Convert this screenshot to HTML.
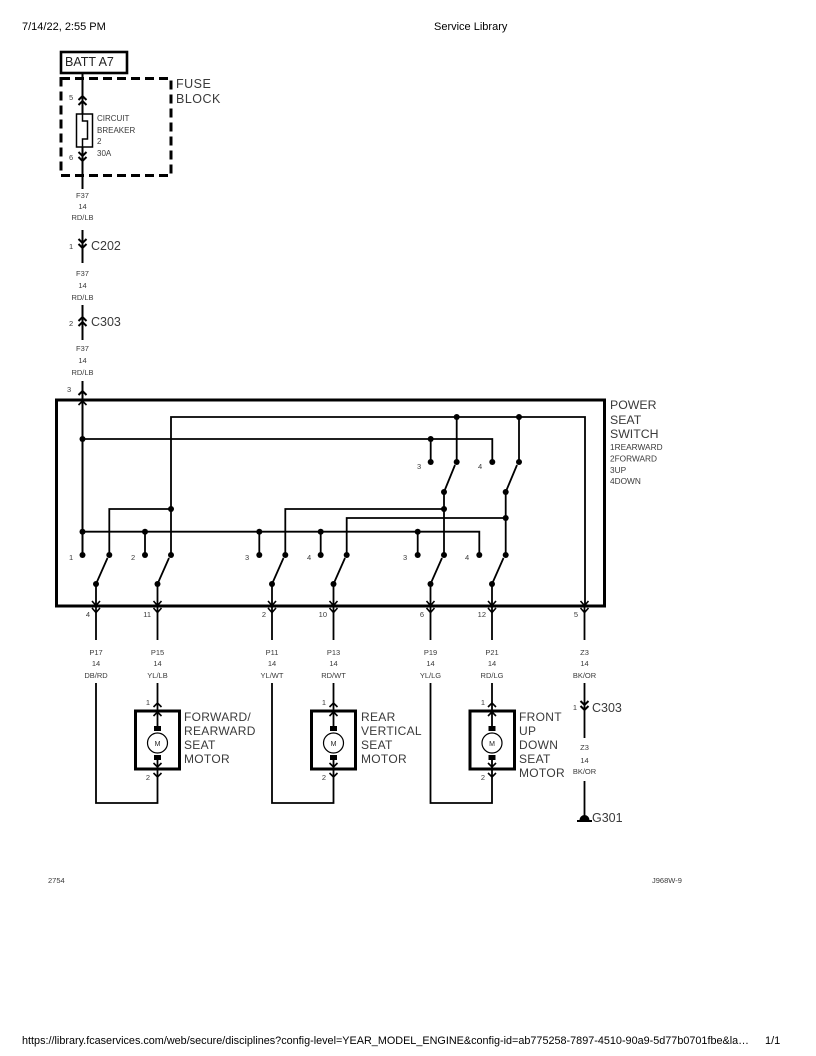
<!DOCTYPE html>
<html><head><meta charset="utf-8"><style>
html,body{margin:0;padding:0;background:#fff;}
svg{display:block;}
</style></head><body>
<svg width="816" height="1056" viewBox="0 0 816 1056" xmlns="http://www.w3.org/2000/svg" font-family="Liberation Sans, sans-serif">
<rect width="816" height="1056" fill="#fff"/>
<!-- header / footer -->
<text x="22" y="30" font-size="11" fill="#000">7/14/22, 2:55 PM</text>
<text x="434" y="30" font-size="11" fill="#000">Service Library</text>
<text x="22" y="1044" font-size="11" fill="#000" textLength="727" lengthAdjust="spacingAndGlyphs">https://library.fcaservices.com/web/secure/disciplines?config-level=YEAR_MODEL_ENGINE&amp;config-id=ab775258-7897-4510-90a9-5d77b0701fbe&amp;la…</text>
<text x="765" y="1044" font-size="11" fill="#000">1/1</text>

<g fill="#3a3a3a">
<text x="48" y="883" font-size="7.5">2754</text>
<text x="652" y="883" font-size="7.5">J968W-9</text>
</g>

<g stroke="#000" fill="none" stroke-width="2" stroke-linecap="butt">
<!-- BATT box -->
<rect x="61" y="52" width="66" height="21" stroke-width="2.6"/>
<!-- fuse block dashed -->
<rect x="61" y="78.5" width="110" height="97" stroke-width="3" stroke-dasharray="9,5"/>
<!-- main top wire -->
<path d="M82.5 73 V114 M82.5 147 V189"/>
<rect x="76.5" y="114" width="16" height="33" stroke-width="1.5"/>
<path d="M82.5 114 V121 H87.5 V139 H82.5 V147" stroke-width="1.5"/>
<polyline points="78.5,100 82.5,96 86.5,100"/>
<polyline points="78.5,105 82.5,101 86.5,105"/>
<polyline points="78.5,152 82.5,156 86.5,152"/>
<polyline points="78.5,157 82.5,161 86.5,157"/>
<!-- C202 -->
<path d="M82.5 230 V263"/>
<polyline points="78.5,239 82.5,243 86.5,239"/>
<polyline points="78.5,244 82.5,248 86.5,244"/>
<!-- C303 -->
<path d="M82.5 305 V340"/>
<polyline points="78.5,321 82.5,317 86.5,321"/>
<polyline points="78.5,326 82.5,322 86.5,326"/>
<!-- into switch -->
<path d="M82.5 381 V555"/>
<polyline points="78.5,395 82.5,391 86.5,395"/>
<polyline points="78.5,405 82.5,401 86.5,405" stroke-width="1.6"/>

<!-- switch box -->
<rect x="56.5" y="400" width="548" height="206" stroke-width="3"/>

<!-- internal wiring -->
<path d="M171 555 V417 H585 V606" stroke-width="1.8"/>
<path d="M82.5 439 H492.3 V462" stroke-width="1.8"/>
<path d="M430.7 439 V462" stroke-width="1.8"/>
<path d="M456.7 417 V462" stroke-width="1.8"/>
<path d="M519 417 V462" stroke-width="1.8"/>
<path d="M444 492 V555" stroke-width="1.8"/>
<path d="M505.7 492 V555" stroke-width="1.8"/>
<path d="M444 492 L455 465 M505.7 492 L517 465" stroke-width="1.8"/>
<path d="M109.3 555 V509 H171" stroke-width="1.8"/>
<path d="M285.3 555 V509 H444" stroke-width="1.8"/>
<path d="M346.7 555 V518 H505.7" stroke-width="1.8"/>
<path d="M82.5 531.7 H479.3 V555" stroke-width="1.8"/>
<path d="M145 531.7 V555 M259.3 531.7 V555 M320.7 531.7 V555 M417.7 531.7 V555" stroke-width="1.8"/>
<!-- lower blades -->
<path d="M96 584 L107.5 558 M157.5 584 L169 558 M272 584 L283.5 558 M333.5 584 L345 558 M430.5 584 L442 558 M492 584 L503.5 558" stroke-width="1.8"/>
<path d="M96 584 V640 M157.5 584 V640 M272 584 V640 M333.5 584 V640 M430.5 584 V640 M492 584 V640 M584.5 606 V640" stroke-width="1.8"/>
<!-- bottom connectors -->
<g stroke-width="1.6">
<polyline points="92,601 96,605.5 100,601"/><polyline points="92,608 96,612.5 100,608"/>
<polyline points="153.5,601 157.5,605.5 161.5,601"/><polyline points="153.5,608 157.5,612.5 161.5,608"/>
<polyline points="268,601 272,605.5 276,601"/><polyline points="268,608 272,612.5 276,608"/>
<polyline points="329.5,601 333.5,605.5 337.5,601"/><polyline points="329.5,608 333.5,612.5 337.5,608"/>
<polyline points="426.5,601 430.5,605.5 434.5,601"/><polyline points="426.5,608 430.5,612.5 434.5,608"/>
<polyline points="488,601 492,605.5 496,601"/><polyline points="488,608 492,612.5 496,608"/>
<polyline points="580.5,601 584.5,605.5 588.5,601"/><polyline points="580.5,608 584.5,612.5 588.5,608"/>
</g>

<!-- motor loops -->
<path d="M96 683 V803 H157.5 V776" stroke-width="1.8"/>
<path d="M157.5 683 V728" stroke-width="1.8"/>
<path d="M157.5 758 V776" stroke-width="1.8"/>
<path d="M272 683 V803 H333.5 V776" stroke-width="1.8"/>
<path d="M333.5 683 V728" stroke-width="1.8"/>
<path d="M333.5 758 V776" stroke-width="1.8"/>
<path d="M430.5 683 V803 H492 V776" stroke-width="1.8"/>
<path d="M492 683 V728" stroke-width="1.8"/>
<path d="M492 758 V776" stroke-width="1.8"/>

<!-- motor boxes -->
<rect x="135.5" y="711" width="44" height="58" stroke-width="3"/>
<rect x="311.5" y="711" width="44" height="58" stroke-width="3"/>
<rect x="470" y="711" width="44.5" height="58" stroke-width="3"/>
<circle cx="157.5" cy="743" r="10" stroke-width="1.2"/>
<circle cx="333.5" cy="743" r="10" stroke-width="1.2"/>
<circle cx="492" cy="743" r="10" stroke-width="1.2"/>
<g stroke-width="1.6">
<polyline points="153.5,707 157.5,703 161.5,707"/><polyline points="153.5,716 157.5,712 161.5,716"/>
<polyline points="153.5,763 157.5,767 161.5,763"/><polyline points="153.5,773 157.5,777 161.5,773"/>
<polyline points="329.5,707 333.5,703 337.5,707"/><polyline points="329.5,716 333.5,712 337.5,716"/>
<polyline points="329.5,763 333.5,767 337.5,763"/><polyline points="329.5,773 333.5,777 337.5,773"/>
<polyline points="488,707 492,703 496,707"/><polyline points="488,716 492,712 496,716"/>
<polyline points="488,763 492,767 496,763"/><polyline points="488,773 492,777 496,773"/>
</g>

<!-- Z3 to ground -->
<path d="M584.5 683 V738 M584.5 781 V816" stroke-width="1.8"/>
<polyline points="580.5,701 584.5,705 588.5,701"/>
<polyline points="580.5,706 584.5,710 588.5,706"/>
<path d="M577 821 H592" stroke-width="2"/>
</g>

<!-- filled parts -->
<g fill="#000">
<rect x="154" y="726" width="7" height="5"/><rect x="154" y="755" width="7" height="5"/>
<rect x="330" y="726" width="7" height="5"/><rect x="330" y="755" width="7" height="5"/>
<rect x="488.5" y="726" width="7" height="5"/><rect x="488.5" y="755" width="7" height="5"/>
<path d="M579.5 820 A5 5 0 0 1 589.5 820 Z"/>
<!-- dots -->
<circle cx="82.5" cy="439" r="3"/>
<circle cx="430.7" cy="439" r="3"/>
<circle cx="456.7" cy="417" r="3"/>
<circle cx="519" cy="417" r="3"/>
<circle cx="430.7" cy="462" r="3"/>
<circle cx="456.7" cy="462" r="3"/>
<circle cx="492.3" cy="462" r="3"/>
<circle cx="519" cy="462" r="3"/>
<circle cx="444" cy="492" r="3"/>
<circle cx="505.7" cy="492" r="3"/>
<circle cx="171" cy="509" r="3"/>
<circle cx="444" cy="509" r="3"/>
<circle cx="505.7" cy="518" r="3"/>
<circle cx="82.5" cy="531.7" r="3"/>
<circle cx="145" cy="531.7" r="3"/>
<circle cx="259.3" cy="531.7" r="3"/>
<circle cx="320.7" cy="531.7" r="3"/>
<circle cx="417.7" cy="531.7" r="3"/>
<circle cx="82.5" cy="555" r="3"/>
<circle cx="109.3" cy="555" r="3"/>
<circle cx="145" cy="555" r="3"/>
<circle cx="171" cy="555" r="3"/>
<circle cx="259.3" cy="555" r="3"/>
<circle cx="285.3" cy="555" r="3"/>
<circle cx="320.7" cy="555" r="3"/>
<circle cx="346.7" cy="555" r="3"/>
<circle cx="417.7" cy="555" r="3"/>
<circle cx="444" cy="555" r="3"/>
<circle cx="479.3" cy="555" r="3"/>
<circle cx="505.7" cy="555" r="3"/>
<circle cx="96" cy="584" r="3"/>
<circle cx="157.5" cy="584" r="3"/>
<circle cx="272" cy="584" r="3"/>
<circle cx="333.5" cy="584" r="3"/>
<circle cx="430.5" cy="584" r="3"/>
<circle cx="492" cy="584" r="3"/>
</g>

<!-- labels -->
<g fill="#3a3a3a">
<text x="65" y="66" font-size="12.5" fill="#222">BATT A7</text>
<text x="176" y="88" font-size="12.5" letter-spacing="0.5">FUSE</text>
<text x="176" y="103" font-size="12.5" letter-spacing="0.5">BLOCK</text>
<text x="69" y="100" font-size="7.5">5</text>
<text x="69" y="160" font-size="7.5">6</text>
<g font-size="8">
<text x="97" y="121">CIRCUIT</text>
<text x="97" y="133">BREAKER</text>
<text x="97" y="144">2</text>
<text x="97" y="156">30A</text>
</g>
<g font-size="7.5" text-anchor="middle">
<text x="82.5" y="198">F37</text><text x="82.5" y="209">14</text><text x="82.5" y="220">RD/LB</text>
<text x="82.5" y="276">F37</text><text x="82.5" y="288">14</text><text x="82.5" y="300">RD/LB</text>
<text x="82.5" y="351">F37</text><text x="82.5" y="363">14</text><text x="82.5" y="375">RD/LB</text>
</g>
<text x="69" y="249" font-size="7.5">1</text>
<text x="91" y="250" font-size="12.5">C202</text>
<text x="69" y="326" font-size="7.5">2</text>
<text x="91" y="326" font-size="12.5">C303</text>
<text x="67" y="392" font-size="7.5">3</text>

<g font-size="12.3">
<text x="610" y="409">POWER</text>
<text x="610" y="424">SEAT</text>
<text x="610" y="438">SWITCH</text>
</g>
<g font-size="8.3">
<text x="610" y="450">1REARWARD</text>
<text x="610" y="461.5">2FORWARD</text>
<text x="610" y="473">3UP</text>
<text x="610" y="484">4DOWN</text>
</g>

<g font-size="7.5">
<text x="69" y="560">1</text>
<text x="131" y="560">2</text>
<text x="245" y="560">3</text>
<text x="307" y="560">4</text>
<text x="403" y="560">3</text>
<text x="465" y="560">4</text>
<text x="417" y="469">3</text>
<text x="478" y="469">4</text>
</g>
<g font-size="7.5" text-anchor="end">
<text x="90" y="617">4</text>
<text x="151" y="617">11</text>
<text x="266" y="617">2</text>
<text x="327" y="617">10</text>
<text x="424" y="617">6</text>
<text x="486" y="617">12</text>
<text x="578" y="617">5</text>
<text x="150" y="705">1</text>
<text x="150" y="780">2</text>
<text x="326" y="705">1</text>
<text x="326" y="780">2</text>
<text x="485" y="705">1</text>
<text x="485" y="780">2</text>
<text x="577" y="710">1</text>
</g>
<g font-size="7.5" text-anchor="middle">
<text x="96" y="655">P17</text><text x="96" y="666">14</text><text x="96" y="678">DB/RD</text>
<text x="157.5" y="655">P15</text><text x="157.5" y="666">14</text><text x="157.5" y="678">YL/LB</text>
<text x="272" y="655">P11</text><text x="272" y="666">14</text><text x="272" y="678">YL/WT</text>
<text x="333.5" y="655">P13</text><text x="333.5" y="666">14</text><text x="333.5" y="678">RD/WT</text>
<text x="430.5" y="655">P19</text><text x="430.5" y="666">14</text><text x="430.5" y="678">YL/LG</text>
<text x="492" y="655">P21</text><text x="492" y="666">14</text><text x="492" y="678">RD/LG</text>
<text x="584.5" y="655">Z3</text><text x="584.5" y="666">14</text><text x="584.5" y="678">BK/OR</text>
<text x="584.5" y="750">Z3</text><text x="584.5" y="763">14</text><text x="584.5" y="774">BK/OR</text>
</g>
<text x="592" y="712" font-size="12.5">C303</text>
<text x="592" y="822" font-size="12.5">G301</text>

<g font-size="12" letter-spacing="0.3">
<text x="184" y="721">FORWARD/</text>
<text x="184" y="735">REARWARD</text>
<text x="184" y="749">SEAT</text>
<text x="184" y="763">MOTOR</text>
<text x="361" y="721">REAR</text>
<text x="361" y="735">VERTICAL</text>
<text x="361" y="749">SEAT</text>
<text x="361" y="763">MOTOR</text>
<text x="519" y="721">FRONT</text>
<text x="519" y="735">UP</text>
<text x="519" y="749">DOWN</text>
<text x="519" y="763">SEAT</text>
<text x="519" y="777">MOTOR</text>
</g>
<g font-size="7" text-anchor="middle" fill="#222">
<text x="157.5" y="746">M</text>
<text x="333.5" y="746">M</text>
<text x="492" y="746">M</text>
</g>
</g>
</svg>
</body></html>
